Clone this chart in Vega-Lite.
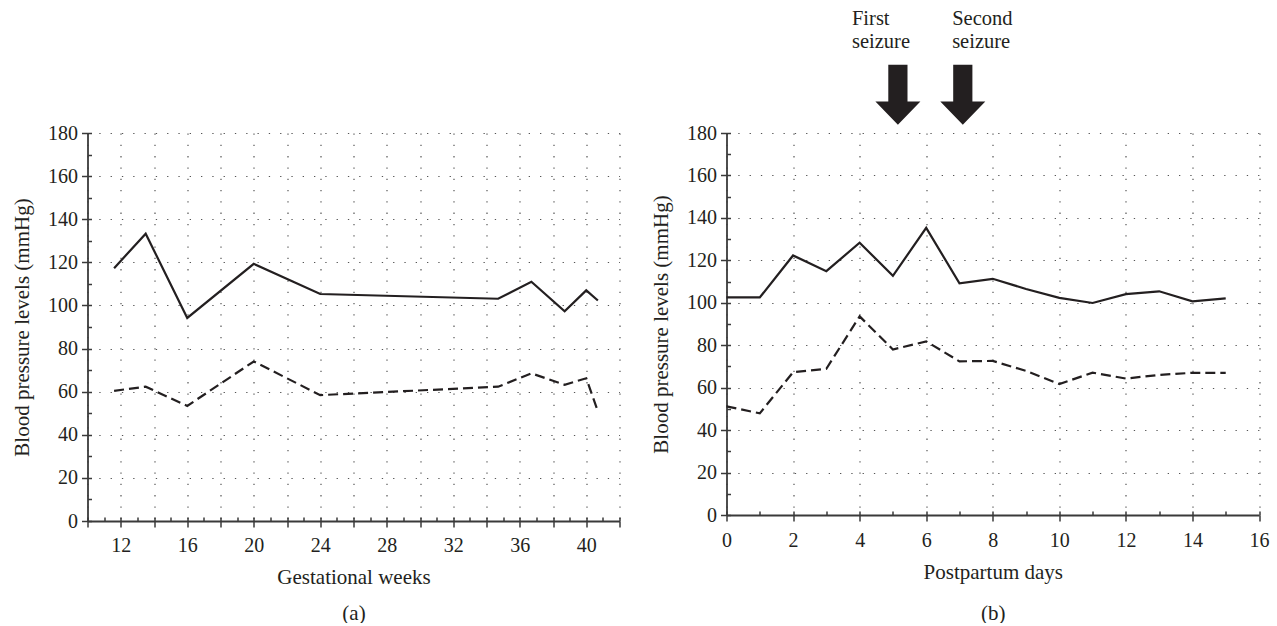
{
  "$schema": "https://vega.github.io/schema/vega-lite/v6.json",
  "background": "white",
  "padding": {"left": 10.5, "top": 8, "right": 0, "bottom": 0},
  "spacing": 29,
  "config": {
    "view": {"stroke": null},
    "font": "Liberation Serif",
    "axis": {
      "labelFont": "Liberation Serif",
      "titleFont": "Liberation Serif",
      "labelFontSize": 20,
      "titleFontSize": 21,
      "titleFontWeight": "normal",
      "labelColor": "#231f20",
      "titleColor": "#231f20",
      "domainColor": "#3a3a3a",
      "domainWidth": 1.8,
      "tickColor": "#3a3a3a",
      "tickWidth": 1.5,
      "gridColor": "#555555",
      "gridDash": [1.3, 10],
      "gridWidth": 1.2,
      "labelFlush": false,
      "labelOverlap": false
    }
  },
  "datasets": {
    "gestation": [
      {"week": 11.6, "systolic": 117.3, "diastolic": 60.4},
      {"week": 13.5, "systolic": 133.3, "diastolic": 62.3},
      {"week": 16.0, "systolic": 94.2, "diastolic": 53.4},
      {"week": 20.0, "systolic": 119.3, "diastolic": 74.0},
      {"week": 24.0, "systolic": 105.3, "diastolic": 58.4},
      {"week": 34.7, "systolic": 103.1, "diastolic": 62.3},
      {"week": 36.7, "systolic": 111.0, "diastolic": 68.5},
      {"week": 38.7, "systolic": 97.3, "diastolic": 63.2},
      {"week": 40.0, "systolic": 107.0, "diastolic": 66.2},
      {"week": 40.7, "systolic": 102.3, "diastolic": 50.9}
    ],
    "postpartum": [
      {"day": 0, "systolic": 102.5, "diastolic": 51.2},
      {"day": 1, "systolic": 102.5, "diastolic": 47.9},
      {"day": 2, "systolic": 122.3, "diastolic": 67.3},
      {"day": 3, "systolic": 114.9, "diastolic": 68.9},
      {"day": 4, "systolic": 128.3, "diastolic": 93.6},
      {"day": 5, "systolic": 112.7, "diastolic": 78.0},
      {"day": 6, "systolic": 135.3, "diastolic": 81.8},
      {"day": 7, "systolic": 109.2, "diastolic": 72.4},
      {"day": 8, "systolic": 111.3, "diastolic": 72.6},
      {"day": 9, "systolic": 106.5, "diastolic": 67.9},
      {"day": 10, "systolic": 102.3, "diastolic": 61.7},
      {"day": 11, "systolic": 99.9, "diastolic": 67.1},
      {"day": 12, "systolic": 104.1, "diastolic": 64.3},
      {"day": 13, "systolic": 105.4, "diastolic": 66.0},
      {"day": 14, "systolic": 100.7, "diastolic": 67.0},
      {"day": 15, "systolic": 102.1, "diastolic": 67.0}
    ],
    "seizures": [
      {"event": "First seizure", "day": 5.15, "label_day": 3.77},
      {"event": "Second seizure", "day": 7.1, "label_day": 6.78}
    ]
  },
  "hconcat": [
    {
      "width": 532,
      "height": 388,
      "data": {"name": "gestation"},
      "layer": [
        {
          "mark": {"type": "line", "color": "#231f20", "strokeWidth": 2.2},
          "encoding": {
            "x": {
              "field": "week", "type": "quantitative",
              "scale": {"domain": [10, 42], "nice": false, "zero": false},
              "axis": {
                "orient": "bottom",
                "values": [10, 12, 14, 16, 18, 20, 22, 24, 26, 28, 30, 32, 34, 36, 38, 40, 42],
                "labelExpr": "datum.value % 4 == 0 ? datum.label : ''",
                "tickSize": 6, "labelPadding": 8, "grid": true,
                "title": ["Gestational weeks", "(a)"],
                "titleLineHeight": 36, "titlePadding": 11
              }
            },
            "y": {
              "field": "systolic", "type": "quantitative",
              "scale": {"domain": [0, 180], "nice": false},
              "axis": {
                "orient": "left",
                "values": [0, 20, 40, 60, 80, 100, 120, 140, 160, 180],
                "tickSize": 6, "labelPadding": 4, "grid": true,
                "title": "Blood pressure levels (mmHg)", "titlePadding": 15.5
              }
            }
          }
        },
        {
          "mark": {"type": "line", "color": "#231f20", "strokeWidth": 2.2, "strokeDash": [10, 5]},
          "encoding": {
            "x": {
              "field": "week", "type": "quantitative",
              "scale": {"domain": [10, 42], "nice": false, "zero": false},
              "axis": {
                "orient": "bottom",
                "values": [10, 11, 12, 13, 14, 15, 16, 17, 18, 19, 20, 21, 22, 23, 24, 25, 26, 27, 28, 29, 30, 31, 32, 33, 34, 35, 36, 37, 38, 39, 40, 41, 42],
                "tickSize": -4, "labels": false, "grid": false, "domain": false, "title": null
              }
            },
            "y": {
              "field": "diastolic", "type": "quantitative",
              "scale": {"domain": [0, 180], "nice": false},
              "axis": {
                "orient": "left",
                "values": [0, 10, 20, 30, 40, 50, 60, 70, 80, 90, 100, 110, 120, 130, 140, 150, 160, 170, 180],
                "tickSize": -4, "labels": false, "grid": false, "domain": false, "title": null
              }
            }
          }
        }
      ],
      "resolve": {"axis": {"x": "independent", "y": "independent"}}
    },
    {
      "width": 532.5,
      "height": 382,
      "layer": [
        {
          "data": {"name": "postpartum"},
          "mark": {"type": "line", "color": "#231f20", "strokeWidth": 2.2},
          "encoding": {
            "x": {
              "field": "day", "type": "quantitative",
              "scale": {"domain": [0, 16], "nice": false},
              "axis": {
                "orient": "bottom",
                "values": [0, 2, 4, 6, 8, 10, 12, 14, 16],
                "tickSize": 6, "labelPadding": 9, "grid": true,
                "title": ["Postpartum days", "(b)"],
                "titleLineHeight": 41, "titlePadding": 11
              }
            },
            "y": {
              "field": "systolic", "type": "quantitative",
              "scale": {"domain": [0, 180], "nice": false},
              "axis": {
                "orient": "left",
                "values": [0, 20, 40, 60, 80, 100, 120, 140, 160, 180],
                "tickSize": 6, "labelPadding": 4, "grid": true,
                "title": "Blood pressure levels (mmHg)", "titlePadding": 15.5
              }
            }
          }
        },
        {
          "data": {"name": "postpartum"},
          "mark": {"type": "line", "color": "#231f20", "strokeWidth": 2.2, "strokeDash": [10, 5]},
          "encoding": {
            "x": {
              "field": "day", "type": "quantitative",
              "scale": {"domain": [0, 16], "nice": false},
              "axis": {
                "orient": "bottom",
                "values": [0, 1, 2, 3, 4, 5, 6, 7, 8, 9, 10, 11, 12, 13, 14, 15, 16],
                "tickSize": -4, "labels": false, "grid": false, "domain": false, "title": null
              }
            },
            "y": {
              "field": "diastolic", "type": "quantitative",
              "scale": {"domain": [0, 180], "nice": false},
              "axis": {
                "orient": "left",
                "values": [0, 10, 20, 30, 40, 50, 60, 70, 80, 90, 100, 110, 120, 130, 140, 150, 160, 170, 180],
                "tickSize": -4, "labels": false, "grid": false, "domain": false, "title": null
              }
            }
          }
        },
        {
          "data": {"name": "seizures"},
          "mark": {
            "type": "point", "filled": true, "color": "#231f20", "opacity": 1, "size": 3600,
            "shape": "M -0.32 -1 L 0.32 -1 L 0.32 0.22 L 0.75 0.22 L 0 1 L -0.75 0.22 L -0.32 0.22 Z"
          },
          "encoding": {
            "x": {"field": "day", "type": "quantitative", "scale": {"domain": [0, 16], "nice": false}, "axis": null},
            "y": {"datum": 198, "type": "quantitative", "scale": {"domain": [0, 180], "nice": false}, "axis": null}
          }
        },
        {
          "data": {"name": "seizures"},
          "mark": {
            "type": "text", "align": "left", "baseline": "alphabetic", "lineBreak": " ",
            "lineHeight": 23.3, "fontSize": 20.5, "font": "Liberation Serif", "color": "#231f20"
          },
          "encoding": {
            "x": {"field": "label_day", "type": "quantitative", "scale": {"domain": [0, 16], "nice": false}, "axis": null},
            "y": {"datum": 231, "type": "quantitative", "scale": {"domain": [0, 180], "nice": false}, "axis": null},
            "text": {"field": "event"}
          }
        }
      ],
      "resolve": {"axis": {"x": "independent", "y": "independent"}}
    }
  ]
}
